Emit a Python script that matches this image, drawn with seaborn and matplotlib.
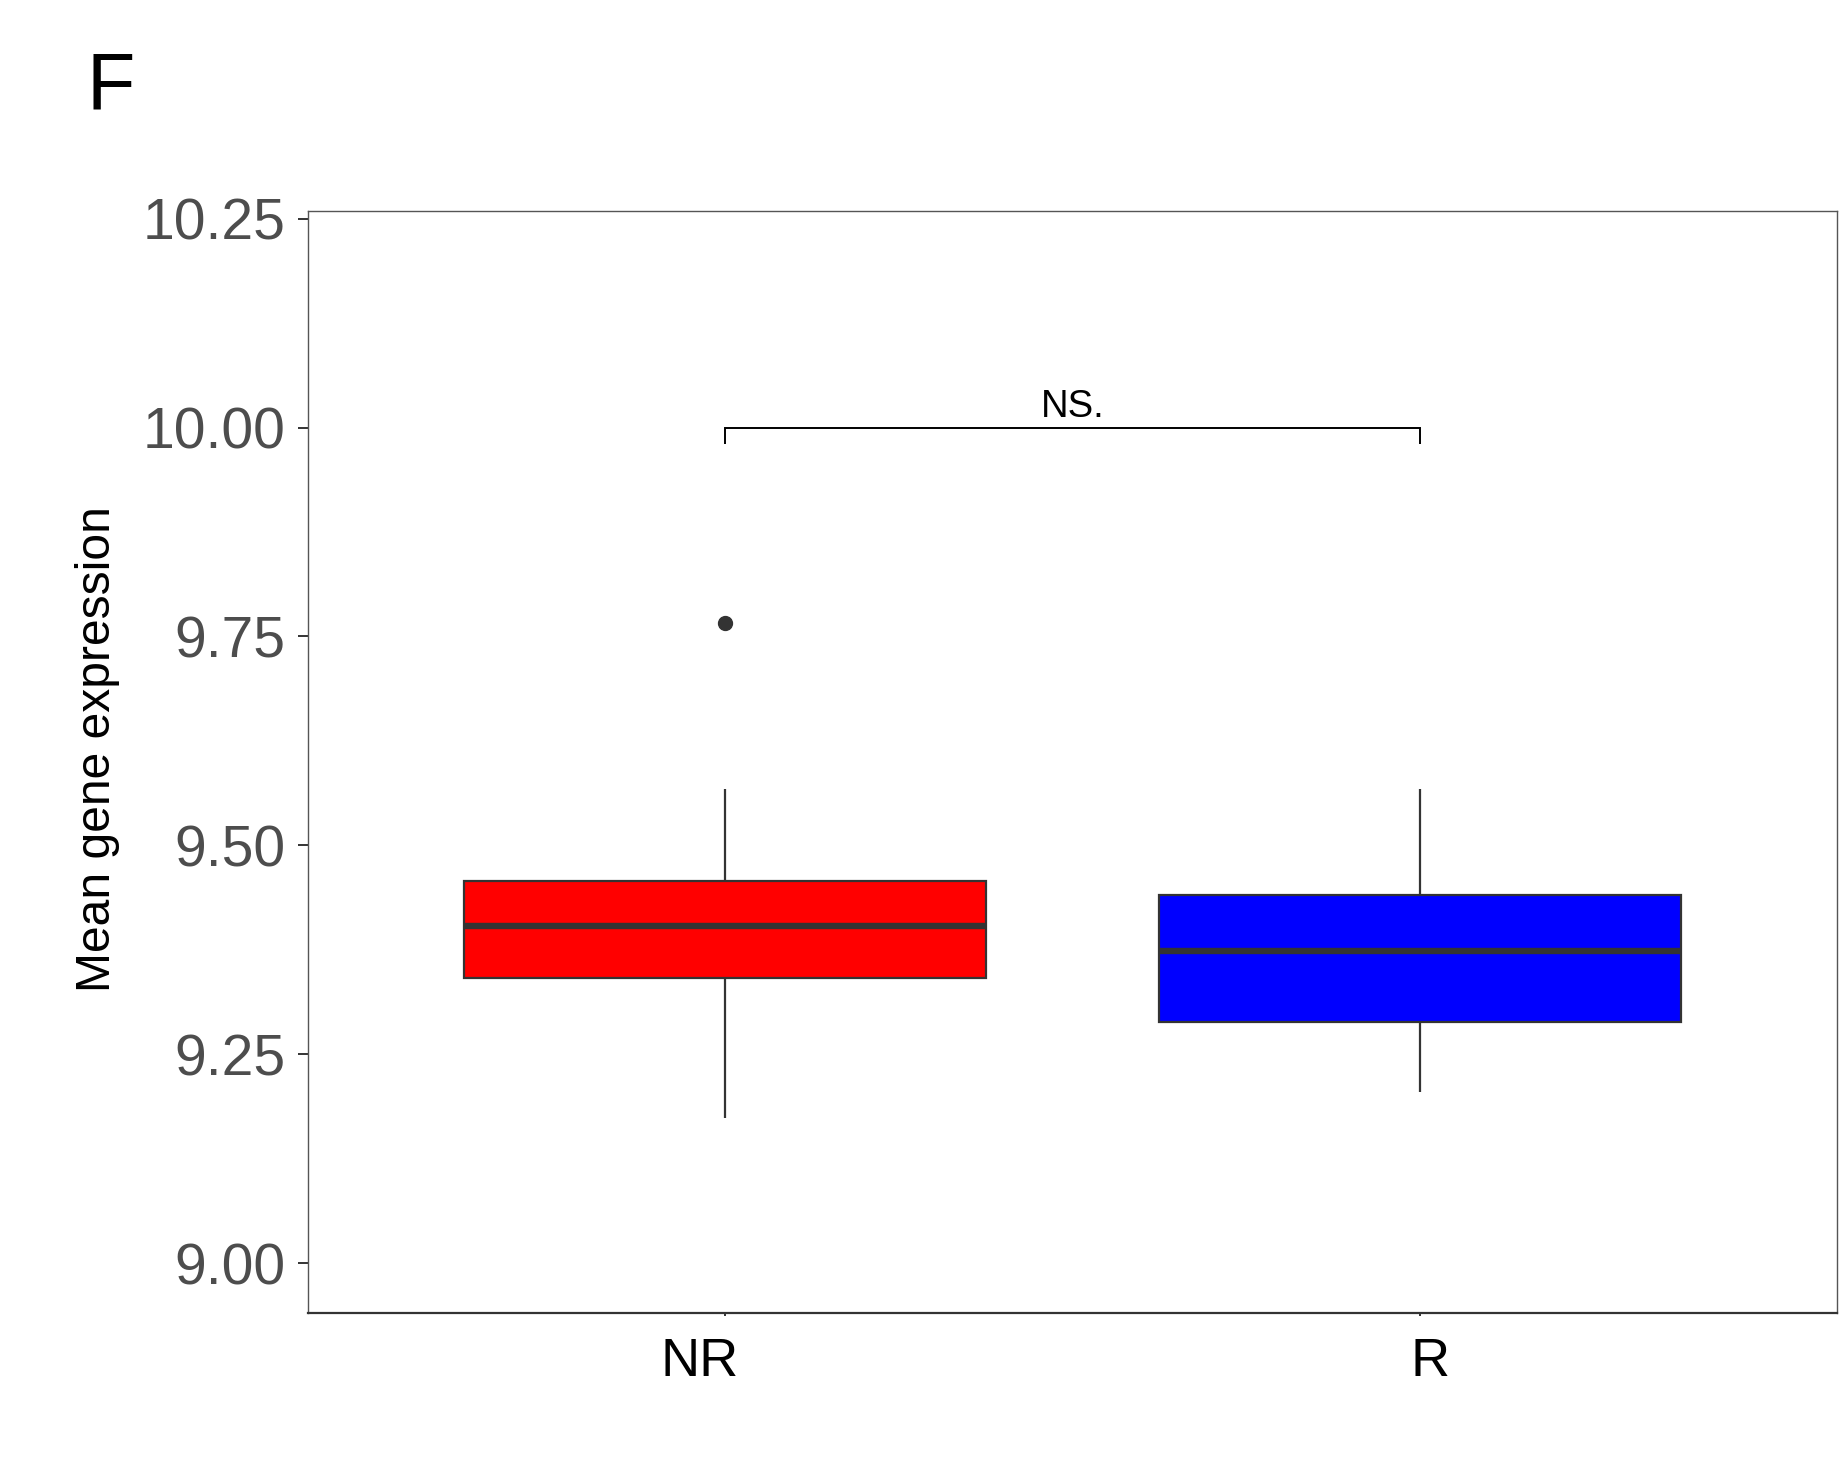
import matplotlib
matplotlib.use("Agg")
import matplotlib.pyplot as plt
import matplotlib.transforms as mtransforms
import pandas as pd
import seaborn as sns

# Summary of mean gene expression per response group
groups = ["NR", "R"]
box_colors = ["#FF0000", "#0000FF"]
whisker_low = [9.174, 9.2045]
lower_quartile = [9.341, 9.289]
medians = [9.4035, 9.374]
upper_quartile = [9.4577, 9.4405]
whisker_high = [9.568, 9.568]
outliers = [[9.7656], []]
y_ticks = [9.00, 9.25, 9.50, 9.75, 10.00, 10.25]
y_label = "Mean gene expression"
panel_tag = "F"
test_label = "NS."

# Observations per group: quartiles and median are doubled so the
# boxplot statistics fall exactly on the summary values.
rows = []
for g, lo, q1, md, q3, hi, extra in zip(groups, whisker_low, lower_quartile,
                                       medians, upper_quartile, whisker_high,
                                       outliers):
    for v in [lo, q1, q1, md, md, q3, q3, hi] + list(extra):
        rows.append({"group": g, "value": v})
df = pd.DataFrame(rows)

sns.set_theme(style="white")
plt.rcParams["font.family"] = ["Liberation Sans", "DejaVu Sans"]

fig = plt.figure(figsize=(18.42, 14.61), dpi=100)
ax = fig.add_axes([0.16721, 0.10130, 0.83008, 0.75428])

dark = "#333333"
sns.boxplot(
    data=df, x="group", y="value", hue="group", order=groups, hue_order=groups,
    palette=dict(zip(groups, box_colors)), saturation=1, width=0.75,
    showcaps=False, linecolor=dark, linewidth=1.6, whis=1.5,
    medianprops=dict(color=dark, linewidth=4.6),
    whiskerprops=dict(color=dark, linewidth=1.6),
    flierprops=dict(marker="o", markersize=10, markerfacecolor=dark,
                    markeredgecolor=dark),
    legend=False, ax=ax,
)

# Significance bracket between the two groups
ax.plot([0, 0, 1, 1], [9.980, 10.0, 10.0, 9.980], color="black", lw=1.4,
        solid_capstyle="butt", solid_joinstyle="miter")
ax.text(0.5, 10.0127, test_label, ha="center", va="baseline", fontsize=27.5,
        color="black")

ax.set_xlim(-0.6, 1.6)
ax.set_ylim(8.9405, 10.2591)
ax.set_yticks(y_ticks)
ax.set_yticklabels([f"{t:.2f}" for t in y_ticks])
ax.set_xlabel("")
ax.set_ylabel(y_label, fontsize=34.6, color="black")
ax.yaxis.set_label_coords(-0.123, 0.512)

ax.tick_params(axis="y", labelsize=41, labelcolor="#4D4D4D", length=7.2,
               width=1.4, color=dark, pad=8.9, left=True)
ax.tick_params(axis="x", labelsize=39, labelcolor="black", length=2.5,
               width=1.4, color=dark, pad=15, bottom=True)

for side in ["left", "top", "right"]:
    ax.spines[side].set_color("#555555")
    ax.spines[side].set_linewidth(1.0)
ax.spines["bottom"].set_color(dark)
ax.spines["bottom"].set_linewidth(1.6)

# Nudge the group names sideways
for lab, dx in zip(ax.get_xticklabels(), [-0.25, 0.10]):
    lab.set_transform(lab.get_transform() +
                      mtransforms.ScaledTranslation(dx, 0, fig.dpi_scale_trans))

fig.text(86.5 / 1842, 1 - 108.3 / 1461, panel_tag, fontsize=57, ha="left",
         va="baseline", color="black")

fig.savefig("out.png", dpi=100, facecolor="white")
